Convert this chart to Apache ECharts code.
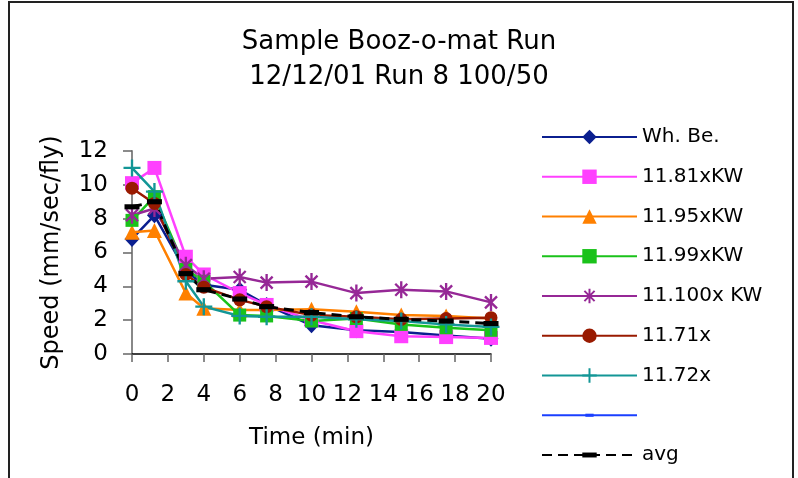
<!DOCTYPE html>
<html>
<head>
<meta charset="utf-8">
<script src="https://cdn.jsdelivr.net/npm/echarts@6/dist/echarts.min.js"></script>
<style>
  html, body { margin: 0; padding: 0; background: #fff; }
  #chart { width: 798px; height: 478px; }
</style>
</head>
<body>
<div id="chart"></div>
<script>
// Sampling times (min)
const times = [0, 1.25, 3, 4, 6, 7.5, 10, 12.5, 15, 17.5, 20];

// Speed readings (mm/sec/fly) per fly line
const whBe  = [6.8, 8.2, 4.9, 4.1, 3.8, 2.9, 1.7, 1.4, 1.3, 1.1, 0.9];
const kw81  = [10.1, 11.0, 5.75, 4.7, 3.6, 2.9, 2.0, 1.35, 1.05, 1.0, 0.95];
const kw95  = [7.2, 7.3, 3.6, 2.7, 2.6, 2.6, 2.65, 2.5, 2.3, 2.25, 2.1];
const kw99  = [7.9, 9.3, 5.0, 4.3, 2.3, 2.25, 1.95, 2.1, 1.75, 1.55, 1.4];
const kw100 = [8.2, 8.6, 5.25, 4.45, 4.55, 4.22, 4.28, 3.6, 3.8, 3.7, 3.05];
const x71   = [9.8, 8.9, 4.7, 3.95, 3.2, 2.8, 2.3, 2.2, 2.05, 2.1, 2.15];
const x72   = [11.0, 9.6, 4.3, 2.8, 2.25, 2.2, 2.2, 2.05, 1.95, 1.75, 1.6];
const blank = [];
const avg   = [8.7, 9.0, 4.75, 3.8, 3.25, 2.8, 2.45, 2.2, 2.05, 1.95, 1.8];

const seriesNames = ['Wh. Be.', '11.81xKW', '11.95xKW', '11.99xKW', '11.100x KW', '11.71x', '11.72x', ' ', 'avg'];

// Axis ranges and tick steps
const xMin = 0, xMax = 20, xStep = 2;
const yMin = 0, yMax = 12, yStep = 2;

const FONT = 'DejaVu Sans';

// Builds a symbol path from thin bars rotated about the origin,
// padded with move-to points so the bounding box stays square.
function barsPath(angles, len, w, box) {
  let d = 'M' + (-box) + ',' + (-box) + ' M' + box + ',' + box + ' ';
  angles.forEach(function (a) {
    const r = a * Math.PI / 180, c = Math.cos(r), s = Math.sin(r);
    const pts = [[-len / 2, -w / 2], [len / 2, -w / 2], [len / 2, w / 2], [-len / 2, w / 2]]
      .map(function (p) { return [(p[0] * c - p[1] * s).toFixed(2), (p[0] * s + p[1] * c).toFixed(2)]; });
    d += 'M' + pts[0].join(',') + ' L' + pts[1].join(',') + ' L' + pts[2].join(',') + ' L' + pts[3].join(',') + ' Z ';
  });
  return 'path://' + d;
}
function dashPath(halfW, halfH, box) {
  return 'path://M' + (-box) + ',' + (-box) + ' M' + box + ',' + box +
    ' M' + (-halfW) + ',' + (-halfH) + ' L' + halfW + ',' + (-halfH) +
    ' L' + halfW + ',' + halfH + ' L' + (-halfW) + ',' + halfH + ' Z';
}

const starSym = barsPath([90, 45, -45], 16, 2.2, 8);
const plusSym = barsPath([0, 90], 16, 2.2, 8);
const avgSym = dashPath(7, 2.4, 7);
const blankSym = dashPath(4, 1.5, 7);

function pairs(vals) { return vals.map(function (v, i) { return [times[i], v]; }); }

function lineSeries(name, vals, color, symbol, size, extra) {
  const s = {
    name: name,
    type: 'line',
    data: pairs(vals),
    symbol: symbol,
    symbolSize: size,
    showAllSymbol: true,
    animation: false,
    lineStyle: { color: color, width: 2.5 },
    itemStyle: { color: color, borderWidth: 0 },
    emphasis: { disabled: true }
  };
  return Object.assign(s, extra || {});
}

const chart = echarts.init(document.getElementById('chart'));
chart.setOption({
  backgroundColor: '#fff',
  animation: false,
  title: {
    text: 'Sample Booz-o-mat Run\n12/12/01 Run 8 100/50',
    left: 'center',
    top: 20,
    textStyle: { fontFamily: FONT, fontSize: 26, fontWeight: 'normal', color: '#000', lineHeight: 35 }
  },
  graphic: [{
    type: 'rect',
    shape: { x: 9, y: 2, width: 784, height: 520 },
    style: { fill: 'none', stroke: '#222', lineWidth: 2 },
    silent: true
  }],
  legend: {
    orient: 'vertical',
    left: 541,
    top: 127,
    padding: 0,
    itemWidth: 95,
    itemHeight: 18,
    itemGap: 19.75,
    selectedMode: false,
    data: seriesNames,
    textStyle: { fontFamily: FONT, fontSize: 20, color: '#000' }
  },
  grid: { left: 132, top: 151, right: 307, bottom: 124, outerBoundsMode: 'none' },
  xAxis: {
    type: 'value',
    min: xMin, max: xMax, interval: xStep,
    name: 'Time (min)',
    nameLocation: 'middle',
    nameGap: 73,
    nameTextStyle: { fontFamily: FONT, fontSize: 23, color: '#000' },
    splitLine: { show: false },
    axisLine: { show: true, onZero: false, lineStyle: { color: '#000', width: 1.5 } },
    axisTick: { show: true, length: 8, lineStyle: { color: '#666', width: 1.5 } },
    axisLabel: { fontFamily: FONT, fontSize: 23, color: '#000', margin: 30, showMinLabel: true, showMaxLabel: true }
  },
  yAxis: {
    type: 'value',
    min: yMin, max: yMax, interval: yStep,
    name: 'Speed (mm/sec/fly)',
    nameLocation: 'middle',
    nameGap: 68,
    nameTextStyle: { fontFamily: FONT, fontSize: 24, color: '#000' },
    splitLine: { show: false },
    axisLine: { show: true, lineStyle: { color: '#888', width: 2 } },
    axisTick: { show: true, length: 9, lineStyle: { color: '#666', width: 1.5 } },
    axisLabel: { fontFamily: FONT, fontSize: 23, color: '#000', margin: 24 }
  },
  series: [
    lineSeries(seriesNames[0], whBe, '#0b1f8f', 'diamond', [15, 16]),
    lineSeries(seriesNames[1], kw81, '#ff40ff', 'rect', 14),
    lineSeries(seriesNames[2], kw95, '#ff8000', 'triangle', 15),
    lineSeries(seriesNames[3], kw99, '#1ac21a', 'rect', 13),
    lineSeries(seriesNames[4], kw100, '#962896', starSym, 17),
    lineSeries(seriesNames[5], x71, '#991a00', 'circle', 13),
    lineSeries(seriesNames[6], x72, '#139696', plusSym, 17),
    lineSeries(seriesNames[7], blank, '#1a3fff', blankSym, 14),
    lineSeries(seriesNames[8], avg, '#000', avgSym, 15, {
      lineStyle: { color: '#000', width: 3, type: [10, 6] }
    })
  ]
});
</script>
</body>
</html>
